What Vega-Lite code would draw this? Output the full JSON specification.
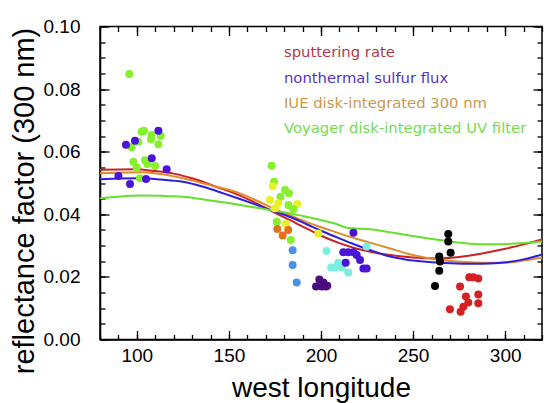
{
  "$schema": "https://vega.github.io/schema/vega-lite/v6.json",
  "width": 442,
  "height": 313,
  "autosize": {"type": "none"},
  "padding": {"left": 100, "top": 26.5, "right": 2, "bottom": 63.5},
  "background": "white",
  "config": {
    "view": {"stroke": "black", "strokeWidth": 1.5},
    "font": "Liberation Sans",
    "axis": {"grid": false, "domainColor": "black", "domainWidth": 1.5, "tickColor": "black", "tickWidth": 1.3, "labelColor": "black", "titleColor": "black", "labelFont": "Liberation Sans", "titleFont": "Liberation Sans", "titleFontWeight": "normal"}
  },
  "datasets": {
    "curves": [
      {"series": "sputtering rate", "lon": 80, "value": 0.0542},
      {"series": "sputtering rate", "lon": 98, "value": 0.0544},
      {"series": "sputtering rate", "lon": 110, "value": 0.0538},
      {"series": "sputtering rate", "lon": 120, "value": 0.053},
      {"series": "sputtering rate", "lon": 130, "value": 0.0515},
      {"series": "sputtering rate", "lon": 143, "value": 0.0488},
      {"series": "sputtering rate", "lon": 155, "value": 0.0462},
      {"series": "sputtering rate", "lon": 165, "value": 0.0435},
      {"series": "sputtering rate", "lon": 175, "value": 0.0405},
      {"series": "sputtering rate", "lon": 183, "value": 0.0382},
      {"series": "sputtering rate", "lon": 192, "value": 0.0355},
      {"series": "sputtering rate", "lon": 201, "value": 0.0329},
      {"series": "sputtering rate", "lon": 210, "value": 0.0308},
      {"series": "sputtering rate", "lon": 219, "value": 0.0291},
      {"series": "sputtering rate", "lon": 228, "value": 0.0279},
      {"series": "sputtering rate", "lon": 237.5, "value": 0.027},
      {"series": "sputtering rate", "lon": 250, "value": 0.0262},
      {"series": "sputtering rate", "lon": 264.6, "value": 0.0259},
      {"series": "sputtering rate", "lon": 274, "value": 0.0263},
      {"series": "sputtering rate", "lon": 282.7, "value": 0.027},
      {"series": "sputtering rate", "lon": 291, "value": 0.0279},
      {"series": "sputtering rate", "lon": 300.8, "value": 0.0291},
      {"series": "sputtering rate", "lon": 310, "value": 0.0304},
      {"series": "sputtering rate", "lon": 320, "value": 0.032},
      {"series": "IUE disk-integrated 300 nm", "lon": 80, "value": 0.0531},
      {"series": "IUE disk-integrated 300 nm", "lon": 90, "value": 0.0533},
      {"series": "IUE disk-integrated 300 nm", "lon": 101.7, "value": 0.0534},
      {"series": "IUE disk-integrated 300 nm", "lon": 113, "value": 0.0529},
      {"series": "IUE disk-integrated 300 nm", "lon": 125, "value": 0.0515},
      {"series": "IUE disk-integrated 300 nm", "lon": 140, "value": 0.0493},
      {"series": "IUE disk-integrated 300 nm", "lon": 156, "value": 0.0467},
      {"series": "IUE disk-integrated 300 nm", "lon": 165, "value": 0.0444},
      {"series": "IUE disk-integrated 300 nm", "lon": 174, "value": 0.0419},
      {"series": "IUE disk-integrated 300 nm", "lon": 183, "value": 0.0397},
      {"series": "IUE disk-integrated 300 nm", "lon": 192, "value": 0.0376},
      {"series": "IUE disk-integrated 300 nm", "lon": 201, "value": 0.0357},
      {"series": "IUE disk-integrated 300 nm", "lon": 210, "value": 0.0339},
      {"series": "IUE disk-integrated 300 nm", "lon": 219, "value": 0.0322},
      {"series": "IUE disk-integrated 300 nm", "lon": 228, "value": 0.0307},
      {"series": "IUE disk-integrated 300 nm", "lon": 237.5, "value": 0.0291},
      {"series": "IUE disk-integrated 300 nm", "lon": 246.5, "value": 0.0275},
      {"series": "IUE disk-integrated 300 nm", "lon": 255.6, "value": 0.0263},
      {"series": "IUE disk-integrated 300 nm", "lon": 264.6, "value": 0.0254},
      {"series": "IUE disk-integrated 300 nm", "lon": 273.7, "value": 0.0249},
      {"series": "IUE disk-integrated 300 nm", "lon": 282.7, "value": 0.0246},
      {"series": "IUE disk-integrated 300 nm", "lon": 291.8, "value": 0.0245},
      {"series": "IUE disk-integrated 300 nm", "lon": 300.8, "value": 0.0246},
      {"series": "IUE disk-integrated 300 nm", "lon": 310, "value": 0.0252},
      {"series": "IUE disk-integrated 300 nm", "lon": 320, "value": 0.0262},
      {"series": "nonthermal sulfur flux", "lon": 80, "value": 0.0512},
      {"series": "nonthermal sulfur flux", "lon": 90, "value": 0.0514},
      {"series": "nonthermal sulfur flux", "lon": 101.7, "value": 0.0515},
      {"series": "nonthermal sulfur flux", "lon": 113, "value": 0.0511},
      {"series": "nonthermal sulfur flux", "lon": 125, "value": 0.0504},
      {"series": "nonthermal sulfur flux", "lon": 136, "value": 0.0488},
      {"series": "nonthermal sulfur flux", "lon": 147, "value": 0.0467},
      {"series": "nonthermal sulfur flux", "lon": 156, "value": 0.0449},
      {"series": "nonthermal sulfur flux", "lon": 165, "value": 0.043},
      {"series": "nonthermal sulfur flux", "lon": 174, "value": 0.0411},
      {"series": "nonthermal sulfur flux", "lon": 183, "value": 0.0392},
      {"series": "nonthermal sulfur flux", "lon": 192, "value": 0.0369},
      {"series": "nonthermal sulfur flux", "lon": 201, "value": 0.0345},
      {"series": "nonthermal sulfur flux", "lon": 210, "value": 0.0323},
      {"series": "nonthermal sulfur flux", "lon": 219, "value": 0.0302},
      {"series": "nonthermal sulfur flux", "lon": 228, "value": 0.0283},
      {"series": "nonthermal sulfur flux", "lon": 237.5, "value": 0.0265},
      {"series": "nonthermal sulfur flux", "lon": 246.5, "value": 0.0255},
      {"series": "nonthermal sulfur flux", "lon": 255.6, "value": 0.0249},
      {"series": "nonthermal sulfur flux", "lon": 264.6, "value": 0.0245},
      {"series": "nonthermal sulfur flux", "lon": 273.7, "value": 0.0243},
      {"series": "nonthermal sulfur flux", "lon": 282.7, "value": 0.0242},
      {"series": "nonthermal sulfur flux", "lon": 291.8, "value": 0.0243},
      {"series": "nonthermal sulfur flux", "lon": 300.8, "value": 0.0247},
      {"series": "nonthermal sulfur flux", "lon": 310, "value": 0.0256},
      {"series": "nonthermal sulfur flux", "lon": 320, "value": 0.0272},
      {"series": "Voyager disk-integrated UV filter", "lon": 80, "value": 0.0451},
      {"series": "Voyager disk-integrated UV filter", "lon": 88, "value": 0.0455},
      {"series": "Voyager disk-integrated UV filter", "lon": 101.7, "value": 0.046},
      {"series": "Voyager disk-integrated UV filter", "lon": 113, "value": 0.0459},
      {"series": "Voyager disk-integrated UV filter", "lon": 125, "value": 0.0456},
      {"series": "Voyager disk-integrated UV filter", "lon": 138, "value": 0.0446},
      {"series": "Voyager disk-integrated UV filter", "lon": 150.6, "value": 0.0435},
      {"series": "Voyager disk-integrated UV filter", "lon": 161, "value": 0.0425},
      {"series": "Voyager disk-integrated UV filter", "lon": 172, "value": 0.0414},
      {"series": "Voyager disk-integrated UV filter", "lon": 183, "value": 0.0403},
      {"series": "Voyager disk-integrated UV filter", "lon": 192, "value": 0.0392},
      {"series": "Voyager disk-integrated UV filter", "lon": 201, "value": 0.038},
      {"series": "Voyager disk-integrated UV filter", "lon": 208, "value": 0.037},
      {"series": "Voyager disk-integrated UV filter", "lon": 214, "value": 0.0357},
      {"series": "Voyager disk-integrated UV filter", "lon": 220, "value": 0.0354},
      {"series": "Voyager disk-integrated UV filter", "lon": 225, "value": 0.0353},
      {"series": "Voyager disk-integrated UV filter", "lon": 235, "value": 0.0345},
      {"series": "Voyager disk-integrated UV filter", "lon": 246.5, "value": 0.0334},
      {"series": "Voyager disk-integrated UV filter", "lon": 255, "value": 0.0326},
      {"series": "Voyager disk-integrated UV filter", "lon": 264.6, "value": 0.0318},
      {"series": "Voyager disk-integrated UV filter", "lon": 273, "value": 0.0311},
      {"series": "Voyager disk-integrated UV filter", "lon": 282.7, "value": 0.0305},
      {"series": "Voyager disk-integrated UV filter", "lon": 291.8, "value": 0.0304},
      {"series": "Voyager disk-integrated UV filter", "lon": 300.8, "value": 0.0305},
      {"series": "Voyager disk-integrated UV filter", "lon": 310, "value": 0.0308},
      {"series": "Voyager disk-integrated UV filter", "lon": 320, "value": 0.0313}
    ],
    "points": [
      {"group": "green", "lon": 95.9, "value": 0.0848},
      {"group": "green", "lon": 102.6, "value": 0.0664},
      {"group": "green", "lon": 103.9, "value": 0.0667},
      {"group": "green", "lon": 108, "value": 0.0653},
      {"group": "green", "lon": 107.7, "value": 0.064},
      {"group": "green", "lon": 113, "value": 0.065},
      {"group": "green", "lon": 97.2, "value": 0.0614},
      {"group": "green", "lon": 100.8, "value": 0.0632},
      {"group": "green", "lon": 111.7, "value": 0.0624},
      {"group": "green", "lon": 98.1, "value": 0.0568},
      {"group": "green", "lon": 104.4, "value": 0.0573},
      {"group": "green", "lon": 105.7, "value": 0.0561},
      {"group": "green", "lon": 109.9, "value": 0.0554},
      {"group": "green", "lon": 99.9, "value": 0.055},
      {"group": "green", "lon": 101.7, "value": 0.0515},
      {"group": "violet", "lon": 111.7, "value": 0.0667},
      {"group": "violet", "lon": 99, "value": 0.0635},
      {"group": "violet", "lon": 94.1, "value": 0.0622},
      {"group": "violet", "lon": 108.1, "value": 0.0579},
      {"group": "violet", "lon": 116.2, "value": 0.0544},
      {"group": "violet", "lon": 90, "value": 0.0522},
      {"group": "violet", "lon": 105, "value": 0.0513},
      {"group": "violet", "lon": 96.3, "value": 0.0497},
      {"group": "green", "lon": 173.2, "value": 0.0555},
      {"group": "green", "lon": 174.5, "value": 0.0504},
      {"group": "yellow", "lon": 173.8, "value": 0.049},
      {"group": "green", "lon": 180.5, "value": 0.0478},
      {"group": "green", "lon": 182.6, "value": 0.0467},
      {"group": "green", "lon": 178, "value": 0.0456},
      {"group": "yellow", "lon": 172.3, "value": 0.0446},
      {"group": "yellow", "lon": 176.8, "value": 0.0435},
      {"group": "green", "lon": 182.3, "value": 0.043},
      {"group": "yellow", "lon": 187.1, "value": 0.0433},
      {"group": "yellow", "lon": 175, "value": 0.0419},
      {"group": "green", "lon": 185, "value": 0.0416},
      {"group": "green", "lon": 176, "value": 0.0376},
      {"group": "yellow", "lon": 181, "value": 0.0369},
      {"group": "orange", "lon": 176.3, "value": 0.0353},
      {"group": "orange", "lon": 182.2, "value": 0.035},
      {"group": "orange", "lon": 179.2, "value": 0.0332},
      {"group": "green", "lon": 183.6, "value": 0.0318},
      {"group": "yellow", "lon": 198.5, "value": 0.0339},
      {"group": "lightblue", "lon": 184.6, "value": 0.0285},
      {"group": "lightblue", "lon": 184.6, "value": 0.0238},
      {"group": "lightblue", "lon": 186.8, "value": 0.0182},
      {"group": "purple", "lon": 199.1, "value": 0.0192},
      {"group": "purple", "lon": 201.3, "value": 0.0182},
      {"group": "purple", "lon": 197.3, "value": 0.0169},
      {"group": "purple", "lon": 200.4, "value": 0.0169},
      {"group": "purple", "lon": 203.4, "value": 0.0172},
      {"group": "purple", "lon": 202.7, "value": 0.0169},
      {"group": "cyan", "lon": 203, "value": 0.0283},
      {"group": "cyan", "lon": 224.8, "value": 0.0297},
      {"group": "cyan", "lon": 205.5, "value": 0.023},
      {"group": "cyan", "lon": 207.6, "value": 0.023},
      {"group": "cyan", "lon": 209.4, "value": 0.0245},
      {"group": "cyan", "lon": 211.2, "value": 0.023},
      {"group": "cyan", "lon": 213, "value": 0.0245},
      {"group": "cyan", "lon": 214.8, "value": 0.0214},
      {"group": "violet", "lon": 217.6, "value": 0.0341},
      {"group": "violet", "lon": 212.1, "value": 0.0279},
      {"group": "violet", "lon": 214.8, "value": 0.0279},
      {"group": "violet", "lon": 217.6, "value": 0.0279},
      {"group": "violet", "lon": 219.4, "value": 0.027},
      {"group": "violet", "lon": 221.2, "value": 0.0254},
      {"group": "violet", "lon": 213.4, "value": 0.0245},
      {"group": "violet", "lon": 223, "value": 0.0227},
      {"group": "violet", "lon": 224.8, "value": 0.0227},
      {"group": "black", "lon": 269.1, "value": 0.0337},
      {"group": "black", "lon": 269.1, "value": 0.0313},
      {"group": "black", "lon": 270.4, "value": 0.0277},
      {"group": "black", "lon": 264.2, "value": 0.0265},
      {"group": "black", "lon": 264.6, "value": 0.0249},
      {"group": "black", "lon": 264.2, "value": 0.022},
      {"group": "black", "lon": 261.9, "value": 0.0171},
      {"group": "red", "lon": 280.5, "value": 0.0199},
      {"group": "red", "lon": 282.7, "value": 0.0199},
      {"group": "red", "lon": 285.4, "value": 0.0195},
      {"group": "red", "lon": 275.5, "value": 0.0169},
      {"group": "red", "lon": 278.7, "value": 0.0137},
      {"group": "red", "lon": 285.4, "value": 0.0144},
      {"group": "red", "lon": 280, "value": 0.0118},
      {"group": "red", "lon": 285.4, "value": 0.0116},
      {"group": "red", "lon": 277.3, "value": 0.0105},
      {"group": "red", "lon": 270, "value": 0.0097},
      {"group": "red", "lon": 275.8, "value": 0.0089}
    ],
    "legend": [
      {"label": "sputtering rate", "lon": 179.9, "value": 0.0914},
      {"label": "nonthermal sulfur flux", "lon": 179.9, "value": 0.0831},
      {"label": "IUE disk-integrated 300 nm", "lon": 179.9, "value": 0.0752},
      {"label": "Voyager disk-integrated UV filter", "lon": 179.9, "value": 0.0672}
    ]
  },
  "layer": [
    {
      "data": {"name": "curves"},
      "mark": {"type": "line", "interpolate": "monotone", "strokeWidth": 2, "clip": true},
      "encoding": {
        "x": {"field": "lon", "type": "quantitative", "scale": {"domain": [80, 320], "nice": false, "zero": false},
              "axis": {"orient": "bottom", "values": [100, 150, 200, 250, 300], "ticks": false, "labelPadding": 7, "labelFontSize": 19, "labelFlush": false,
                       "title": "west longitude", "titleFontSize": 28, "titleBaseline": "alphabetic", "titleX": 221, "titleY": 57, "titleAnchor": "middle"}},
        "y": {"field": "value", "type": "quantitative", "scale": {"domain": [0, 0.1], "nice": false, "zero": false},
              "axis": {"orient": "left", "values": [0, 0.02, 0.04, 0.06, 0.08, 0.1], "format": ".2f", "ticks": false, "labelPadding": 20, "labelFontSize": 19, "labelFlush": false,
                       "title": "reflectance factor (300 nm)", "titleFontSize": 29, "titleBaseline": "alphabetic", "titleAngle": 270, "titleX": -67, "titleY": 174, "titleAnchor": "middle"}},
        "color": {"field": "series", "type": "nominal", "legend": null,
                  "scale": {"domain": ["sputtering rate", "nonthermal sulfur flux", "IUE disk-integrated 300 nm", "Voyager disk-integrated UV filter"],
                            "range": ["#cc2222", "#2c1ee0", "#e08a2a", "#66e02a"]}},
        "order": {"field": "series", "sort": "descending"}
      }
    },
    {
      "data": {"name": "points"},
      "mark": {"type": "circle", "size": 64, "opacity": 1},
      "encoding": {
        "x": {"field": "lon", "type": "quantitative", "axis": {"orient": "bottom", "offset": -5, "values": [80, 90, 100, 110, 120, 130, 140, 150, 160, 170, 180, 190, 200, 210, 220, 230, 240, 250, 260, 270, 280, 290, 300, 310, 320], "labels": false, "tickSize": 5, "domain": false, "title": null}},
        "y": {"field": "value", "type": "quantitative", "axis": {"orient": "left", "offset": -5, "values": [0, 0.005, 0.01, 0.015, 0.02, 0.025, 0.03, 0.035, 0.04, 0.045, 0.05, 0.055, 0.06, 0.065, 0.07, 0.075, 0.08, 0.085, 0.09, 0.095, 0.1], "labels": false, "tickSize": 5, "domain": false, "title": null}},
        "color": {"field": "group", "type": "nominal", "legend": null,
                  "scale": {"domain": ["green", "violet", "yellow", "orange", "lightblue", "purple", "cyan", "black", "red"],
                            "range": ["#86f02c", "#4a14d8", "#e8f02a", "#e0741e", "#4a90e8", "#4c0a82", "#78f0e0", "#000000", "#d42020"]}}
      }
    },
    {
      "data": {"name": "points"},
      "mark": {"type": "point", "opacity": 0},
      "encoding": {
        "x": {"field": "lon", "type": "quantitative", "axis": {"orient": "bottom", "offset": -9, "values": [100, 150, 200, 250, 300], "labels": false, "tickSize": 9, "domain": false, "title": null}},
        "y": {"field": "value", "type": "quantitative", "axis": {"orient": "left", "offset": -9, "values": [0, 0.02, 0.04, 0.06, 0.08, 0.1], "labels": false, "tickSize": 9, "domain": false, "title": null}}
      }
    },
    {
      "data": {"name": "points"},
      "mark": {"type": "point", "opacity": 0},
      "encoding": {
        "x": {"field": "lon", "type": "quantitative", "axis": {"orient": "top", "offset": -9, "values": [100, 150, 200, 250, 300], "labels": false, "tickSize": 9, "domain": false, "title": null}},
        "y": {"field": "value", "type": "quantitative", "axis": {"orient": "right", "offset": -9, "values": [0, 0.02, 0.04, 0.06, 0.08, 0.1], "labels": false, "tickSize": 9, "domain": false, "title": null}}
      }
    },
    {
      "data": {"name": "points"},
      "mark": {"type": "point", "opacity": 0},
      "encoding": {
        "x": {"field": "lon", "type": "quantitative", "axis": {"orient": "top", "offset": -5, "values": [80, 90, 100, 110, 120, 130, 140, 150, 160, 170, 180, 190, 200, 210, 220, 230, 240, 250, 260, 270, 280, 290, 300, 310, 320], "labels": false, "tickSize": 5, "domain": false, "title": null}},
        "y": {"field": "value", "type": "quantitative", "axis": {"orient": "right", "offset": -5, "values": [0, 0.005, 0.01, 0.015, 0.02, 0.025, 0.03, 0.035, 0.04, 0.045, 0.05, 0.055, 0.06, 0.065, 0.07, 0.075, 0.08, 0.085, 0.09, 0.095, 0.1], "labels": false, "tickSize": 5, "domain": false, "title": null}}
      }
    },
    {
      "data": {"name": "legend"},
      "mark": {"type": "text", "align": "left", "baseline": "middle", "fontSize": 14.8, "font": "DejaVu Sans"},
      "encoding": {
        "x": {"field": "lon", "type": "quantitative", "axis": null},
        "y": {"field": "value", "type": "quantitative", "axis": null},
        "text": {"field": "label"},
        "color": {"field": "label", "type": "nominal", "legend": null,
                  "scale": {"domain": ["sputtering rate", "nonthermal sulfur flux", "IUE disk-integrated 300 nm", "Voyager disk-integrated UV filter"],
                            "range": ["#b03a4a", "#5434c8", "#c89a4c", "#74dc4c"]}}
      }
    }
  ],
  "resolve": {"axis": {"x": "independent", "y": "independent"}, "scale": {"color": "independent"}}
}
